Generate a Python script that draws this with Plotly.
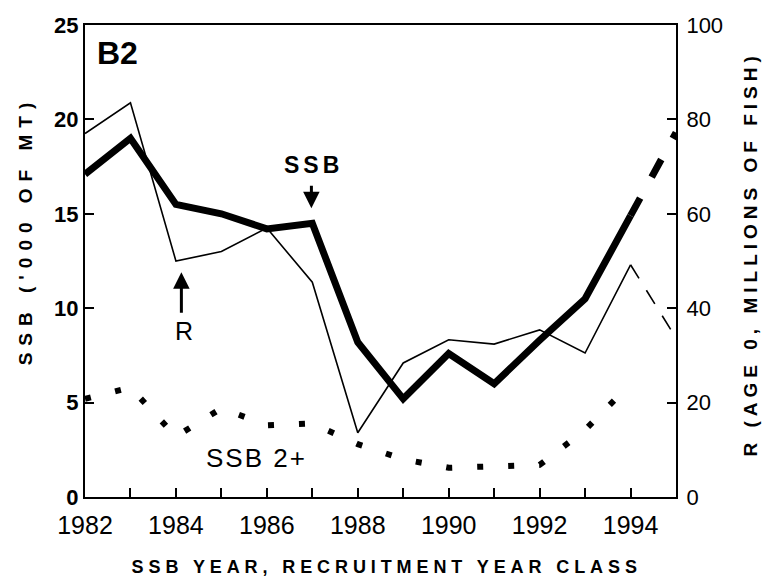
import plotly.graph_objects as go

# ---- data ----
years = [1982, 1983, 1984, 1985, 1986, 1987, 1988, 1989, 1990, 1991, 1992, 1993, 1994]
ssb = [17.1, 19.0, 15.5, 15.0, 14.2, 14.5, 8.2, 5.2, 7.6, 6.0, 8.3, 10.5, 14.9]
proj_years = [1994, 1995]
ssb_proj = [14.9, 19.3]
recruits = [77.0, 83.5, 50.0, 52.0, 57.0, 45.5, 13.6, 28.4, 33.3, 32.4, 35.4, 30.5, 49.2]
recruits_proj = [49.2, 33.7]
ssb2plus = [5.2, 5.8, 3.2, 4.7, 3.8, 3.9, 2.8, 2.0, 1.55, 1.6, 1.7, 3.55, 6.0]

x_ticks = [1982, 1984, 1986, 1988, 1990, 1992, 1994]
y_ticks = [0, 5, 10, 15, 20, 25]
y2_ticks = [0, 20, 40, 60, 80, 100]

FONT = "Liberation Sans, Arial, Helvetica, sans-serif"
BLACK = "#000000"

fig = go.Figure()

# SSB 2+ (dotted)
fig.add_trace(go.Scatter(x=years, y=ssb2plus, mode="lines",
                         line=dict(color=BLACK, width=6, dash="6px,25px"),
                         showlegend=False, hoverinfo="skip"))
# Recruitment (thin, right axis)
fig.add_trace(go.Scatter(x=years, y=recruits, mode="lines", yaxis="y2",
                         line=dict(color=BLACK, width=1.6),
                         showlegend=False))
fig.add_trace(go.Scatter(x=proj_years, y=recruits_proj, mode="lines", yaxis="y2",
                         line=dict(color=BLACK, width=1.6, dash="16px,14px"),
                         showlegend=False))
# SSB (thick)
fig.add_trace(go.Scatter(x=years, y=ssb, mode="lines",
                         line=dict(color=BLACK, width=7),
                         showlegend=False))
fig.add_trace(go.Scatter(x=proj_years, y=ssb_proj, mode="lines",
                         line=dict(color=BLACK, width=7, dash="20px,24px"),
                         showlegend=False))

annotations = [
    dict(x=1982.72, y=23.5, text="<b>B2</b>", showarrow=False,
         font=dict(size=32, family=FONT, color=BLACK)),
    dict(x=1987.03, y=17.6, text="<b>SSB</b>", showarrow=False,
         font=dict(size=23, family=FONT, color=BLACK)),
    dict(x=1986.98, y=15.3, ax=0, ay=-24, text="", showarrow=True,
         arrowhead=2, arrowsize=1.1, arrowwidth=3, arrowcolor=BLACK),
    dict(x=1984.12, y=11.9, ax=0, ay=42, text="", showarrow=True,
         arrowhead=2, arrowsize=1.1, arrowwidth=3, arrowcolor=BLACK),
    dict(x=1984.17, y=8.8, text="R", showarrow=False,
         font=dict(size=25, family=FONT, color=BLACK)),
    dict(x=1985.78, y=2.07, text="SSB 2+", showarrow=False,
         font=dict(size=26, family=FONT, color=BLACK)),
    # axis titles
    dict(xref="paper", yref="paper", x=-0.1015, y=0.565, xanchor="center", yanchor="middle",
         text="<b>SSB ('000 OF MT)</b>", textangle=-90, showarrow=False,
         font=dict(size=19, family=FONT, color=BLACK)),
    dict(xref="paper", yref="paper", x=1.127, y=0.515, xanchor="center", yanchor="middle",
         text="<b>R (AGE 0, MILLIONS OF FISH)</b>", textangle=-90, showarrow=False,
         font=dict(size=19, family=FONT, color=BLACK)),
    dict(xref="paper", yref="paper", x=0.51, y=-0.148, xanchor="center", yanchor="middle",
         text="<b>SSB YEAR, RECRUITMENT YEAR CLASS</b>", showarrow=False,
         font=dict(size=18, family=FONT, color=BLACK)),
]

fig.update_layout(
    width=766, height=581,
    margin=dict(l=85, r=90, t=25, b=84),
    paper_bgcolor="white", plot_bgcolor="white",
    font=dict(family=FONT, color=BLACK),
    annotations=annotations,
    xaxis=dict(range=[1982, 1995], tickvals=x_ticks, ticktext=[str(v) for v in x_ticks],
               ticks="inside", ticklen=9, tickwidth=1.5, tickcolor=BLACK,
               minor=dict(ticks="inside", dtick=1, tick0=1982, ticklen=9, tickwidth=1.5, tickcolor=BLACK),
               showline=True, linecolor=BLACK, linewidth=2, mirror=True,
               showgrid=False, zeroline=False, ticklabelstandoff=5,
               tickfont=dict(size=25, family=FONT, color=BLACK)),
    yaxis=dict(range=[0, 25], tickvals=y_ticks, ticks="inside", ticklen=9, tickwidth=1.5,
               tickcolor=BLACK, showline=True, linecolor=BLACK, linewidth=2,
               showgrid=False, zeroline=False,
               tickfont=dict(size=22, family=FONT, color=BLACK, weight="bold")),
    yaxis2=dict(range=[0, 100], tickvals=y2_ticks, overlaying="y", side="right",
                ticks="inside", ticklen=9, tickwidth=1.5, tickcolor=BLACK,
                showline=True, linecolor=BLACK, linewidth=2,
                showgrid=False, zeroline=False, ticklabelstandoff=4,
                tickfont=dict(size=22, family=FONT, color=BLACK)),
)

post_js = """
document.body.style.margin = '0px';
function spaceTitles() {
  document.querySelectorAll('.annotation-text').forEach(function (t) {
    var s = t.textContent;
    var v = null;
    if (s.indexOf('MT)') >= 0) v = '7px';
    else if (s.indexOf('FISH') >= 0) v = '5px';
    else if (s.indexOf('RECRUITMENT') >= 0) v = '4.9px';
    else if (s === 'SSB') v = '4px';
    else if (s === 'SSB 2+') v = '2px';
    if (v) t.style.letterSpacing = v;
  });
}
spaceTitles();
var gd = document.getElementById('{plot_id}');
if (gd && gd.on) gd.on('plotly_afterplot', spaceTitles);
"""

fig.write_html("out.html", post_script=post_js, config={"displayModeBar": False})
